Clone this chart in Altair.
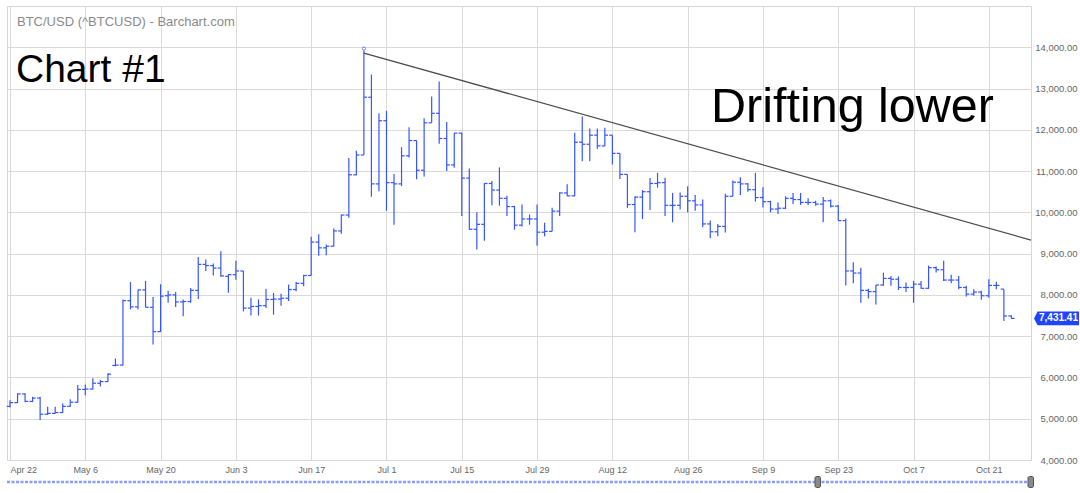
import altair as alt
import pandas as pd

# ---- data (weekday bars, Apr 22 - Oct 24) ----
opens = [5300, 5390, 5600, 5420, 5500, 5110, 5130, 5150, 5300, 5400,
         5710, 5720, 5860, 5900, 6290, 6300, 7860, 7710, 8120, 7700,
         7110, 7980, 8000, 7830, 7840, 8110, 8740, 8710, 8650, 8450,
         8490, 8580, 7680, 7720, 7740, 7890, 7900, 7920, 8130, 8280,
         8470, 9280, 9140, 9180, 9550, 9935, 10910, 11390, 12790, 10690,
         12220, 10720, 10690, 11370, 11740, 11020, 12170, 12400, 11790, 11150,
         11920, 10830, 9590, 9710, 10700, 10540, 10340, 10140, 9690, 9840,
         9840, 9520, 9540, 10030, 10470, 10400, 11700, 11650, 11870, 11610,
         11870, 11430, 10920, 10190, 10370, 10500, 10700, 10720, 10170, 10170,
         10390, 10280, 10180, 9720, 9530, 9660, 10390, 10730, 10690, 10550,
         10360, 10260, 10080, 10100, 10340, 10310, 10240, 10240, 10200, 10280,
         10150, 9800, 8580, 8530, 8110, 8080, 8240, 8400, 8380, 8180,
         8180, 8260, 8160, 8660, 8610, 8360, 8360, 8180, 8020, 8070,
         7980, 8230, 8140, 7490]
highs = [5450, 5615, 5620, 5530, 5530, 5290, 5290, 5370, 5470, 5820,
         5830, 5980, 5940, 6100, 6460, 7890, 8310, 8130, 8340, 7950,
         8260, 8100, 8070, 7890, 8170, 8920, 8860, 8760, 9060, 8500,
         8830, 8580, 7930, 7890, 8150, 8050, 8030, 8250, 8310, 8490,
         9410, 9470, 9220, 9610, 9950, 11320, 11490, 13920, 13340, 12400,
         12460, 10930, 11580, 12060, 11740, 12280, 12810, 13170, 12190, 11920,
         11930, 11060, 10000, 10710, 10760, 11090, 10400, 10160, 10190, 9950,
         10190, 9750, 10110, 10490, 10680, 11930, 12320, 12030, 12030, 12050,
         11870, 11430, 10920, 10390, 10540, 10830, 10960, 10840, 10470, 10480,
         10630, 10420, 10310, 9800, 9720, 10450, 10770, 10850, 10710, 10960,
         10610, 10280, 10240, 10390, 10470, 10470, 10340, 10280, 10370, 10310,
         10180, 9850, 8790, 8660, 8150, 8240, 8540, 8460, 8450, 8300,
         8340, 8340, 8710, 8690, 8830, 8490, 8460, 8220, 8140, 8100,
         8380, 8320, 8140, 7500]
lows = [5275, 5380, 5400, 5400, 4970, 5090, 5120, 5140, 5290, 5390,
        5570, 5710, 5780, 5890, 6270, 6290, 7650, 7650, 7700, 6800,
        7100, 7810, 7710, 7480, 7810, 7900, 8580, 8470, 8440, 8050,
        8370, 7600, 7500, 7500, 7680, 7520, 7740, 7850, 8090, 8210,
        8470, 8950, 8960, 9170, 9480, 9870, 10900, 11390, 10380, 10510,
        10040, 9700, 10640, 11330, 10800, 10870, 12170, 11660, 11000, 11080,
        9910, 9580, 9100, 9310, 10170, 10160, 9910, 9580, 9660, 9700,
        9190, 9420, 9540, 9910, 10390, 10390, 11240, 11240, 11540, 11600,
        11160, 10810, 10110, 9520, 9840, 10060, 10600, 9910, 9760, 10070,
        10000, 10040, 9640, 9370, 9420, 9510, 10390, 10420, 10500, 10260,
        10120, 10000, 9960, 10080, 10200, 10180, 10180, 10160, 9760, 10120,
        9800, 8230, 8280, 7810, 7910, 7770, 8220, 8220, 8120, 8070,
        7810, 8150, 8150, 8540, 8340, 8280, 8140, 7960, 7980, 7880,
        7930, 8140, 7370, 7420]
closes = [5390, 5600, 5420, 5500, 5110, 5130, 5150, 5300, 5400, 5710,
          5720, 5860, 5900, 6080, 6300, 7860, 7710, 8120, 7700, 7110,
          7970, 8000, 7830, 7840, 8110, 8740, 8710, 8650, 8460, 8490,
          8580, 7680, 7720, 7740, 7890, 7900, 7920, 8130, 8280, 8470,
          9280, 9140, 9180, 9550, 9935, 10910, 11390, 12790, 10690, 12220,
          10720, 10690, 11370, 11740, 11020, 12170, 12400, 11790, 11150, 11920,
          10830, 9590, 9710, 10700, 10540, 10340, 10140, 9690, 9840, 9840,
          9520, 9540, 10030, 10470, 10400, 11700, 11650, 11870, 11610, 11870,
          11430, 10920, 10190, 10370, 10500, 10700, 10720, 10170, 10170, 10390,
          10280, 10180, 9720, 9530, 9660, 10390, 10730, 10690, 10550, 10360,
          10260, 10080, 10100, 10340, 10310, 10240, 10240, 10200, 10280, 10150,
          9800, 8580, 8530, 8110, 8080, 8240, 8400, 8380, 8180, 8180,
          8260, 8160, 8660, 8610, 8360, 8360, 8180, 8020, 8070, 7980,
          8230, 8230, 7490, 7431.41]
tick_labels = ["Apr 22", "May 6", "May 20", "Jun 3", "Jun 17", "Jul 1", "Jul 15",
               "Jul 29", "Aug 12", "Aug 26", "Sep 9", "Sep 23", "Oct 7", "Oct 21"]
y_ticks = [4000, 5000, 6000, 7000, 8000, 9000, 10000, 11000, 12000, 13000, 14000]
trend_x = [47, 135.6]
trend_y = [13860, 9330]

n = len(closes)
df = pd.DataFrame({"i": list(range(n)), "open": opens, "high": highs,
                   "low": lows, "close": closes})
df["i_left"] = df["i"] - 0.42
df["i_right"] = df["i"] + 0.42

trend_df = pd.DataFrame({"x": [trend_x[0]], "x2": [trend_x[1]],
                         "y": [trend_y[0]], "y2": [trend_y[1]]})
last_df = pd.DataFrame({"v": [closes[-1]]})
peak_df = df[df["high"] == max(highs)]
one = pd.DataFrame({"a": [0]})

BLUE = "#3556ff"
FONT = "Liberation Sans"
W, H = 1024, 454

xscale = alt.Scale(domain=[-0.4, 135.6], nice=False, zero=False)
yscale = alt.Scale(domain=[4000, 15000], nice=False, zero=False)

label_array = "[" + ",".join("'%s'" % t for t in tick_labels) + "]"
xaxis = alt.Axis(values=[10 * k for k in range(len(tick_labels))],
                 labelExpr=label_array + "[round(datum.value/10)]",
                 grid=True, gridColor="#d9d9d9", ticks=False, domain=False,
                 labelColor="#666666", labelFontSize=9, labelFont=FONT,
                 labelPadding=5, labelFlush=5, labelOverlap=False, title=None)
yaxis = alt.Axis(orient="right", values=y_ticks, format=",.2f",
                 grid=True, gridColor="#d9d9d9", ticks=False, domain=False,
                 labelColor="#666666", labelFontSize=9.5, labelFont=FONT,
                 labelAlign="right", labelPadding=46, title=None)

base = alt.Chart(df)
hl = base.mark_rule(color=BLUE, strokeWidth=1.2).encode(
    x=alt.X("i:Q", scale=xscale, axis=xaxis),
    y=alt.Y("low:Q", scale=yscale, axis=yaxis),
    y2="high:Q")
op = base.mark_rule(color=BLUE, strokeWidth=1.2).encode(
    x="i_left:Q", x2="i:Q", y="open:Q")
cl = base.mark_rule(color=BLUE, strokeWidth=1.2).encode(
    x="i:Q", x2="i_right:Q", y="close:Q")
peak = alt.Chart(peak_df).mark_point(shape="circle", filled=False, size=10,
                                     color=BLUE, strokeWidth=1, yOffset=-2).encode(
    x="i:Q", y="high:Q")

trend = alt.Chart(trend_df).mark_rule(color="#4d4d4d", strokeWidth=1.3).encode(
    x="x:Q", x2="x2:Q", y="y:Q", y2="y2:Q")

src = alt.Chart(one).mark_text(text="BTC/USD (^BTCUSD) - Barchart.com", align="left",
                               baseline="middle", font=FONT, fontSize=13,
                               color="#8a8a8a").encode(x=alt.value(10), y=alt.value(15.5))
c1 = alt.Chart(one).mark_text(text="Chart #1", align="left", baseline="alphabetic",
                              font=FONT, fontSize=39, color="#000000").encode(
    x=alt.value(9), y=alt.value(76))
drift = alt.Chart(one).mark_text(text="Drifting lower", align="left", baseline="alphabetic",
                                 font=FONT, fontSize=48.5, color="#000000").encode(
    x=alt.value(704), y=alt.value(116))

tag_path = "M-1,0L-0.84,-0.31L1,-0.31L1,0.31L-0.84,0.31Z"
tag = alt.Chart(last_df).mark_point(shape=tag_path, size=2025, filled=True,
                                    fill="#1f44ff", opacity=1, strokeWidth=0).encode(
    x=alt.value(1049.5), y=alt.Y("v:Q", scale=yscale))
tag_txt = alt.Chart(last_df).mark_text(color="white", fontWeight="bold", font=FONT,
                                       fontSize=10, align="center", baseline="middle").encode(
    x=alt.value(1051.5), y=alt.Y("v:Q", scale=yscale),
    text=alt.Text("v:Q", format=",.2f"))

scroll = alt.Chart(one).mark_rule(color="#8a9dff", strokeWidth=2.5, strokeDash=[3, 1.5]).encode(
    x=alt.value(0), x2=alt.value(W), y=alt.value(476))
h1 = alt.Chart(one).mark_rect(fill="#8a8a8a", stroke="#555555", strokeWidth=1,
                              cornerRadius=1.5).encode(
    x=alt.value(808), x2=alt.value(813.5), y=alt.value(470.5), y2=alt.value(481.5))
h2 = alt.Chart(one).mark_rect(fill="#8a8a8a", stroke="#555555", strokeWidth=1,
                              cornerRadius=1.5).encode(
    x=alt.value(1021), x2=alt.value(1026.5), y=alt.value(470.5), y2=alt.value(481.5))

chart = alt.layer(hl, op, cl, peak, trend, src, c1, drift, scroll, h1, h2, tag, tag_txt).properties(
    width=W, height=H,
    padding={"left": 7, "top": 6, "right": 49, "bottom": 33},
    autosize=alt.AutoSizeParams(type="none"),
    background="white",
).configure_view(stroke="#d6d6d6", strokeWidth=1)

chart.save("out.html", embed_options={"renderer": "svg", "actions": False})
